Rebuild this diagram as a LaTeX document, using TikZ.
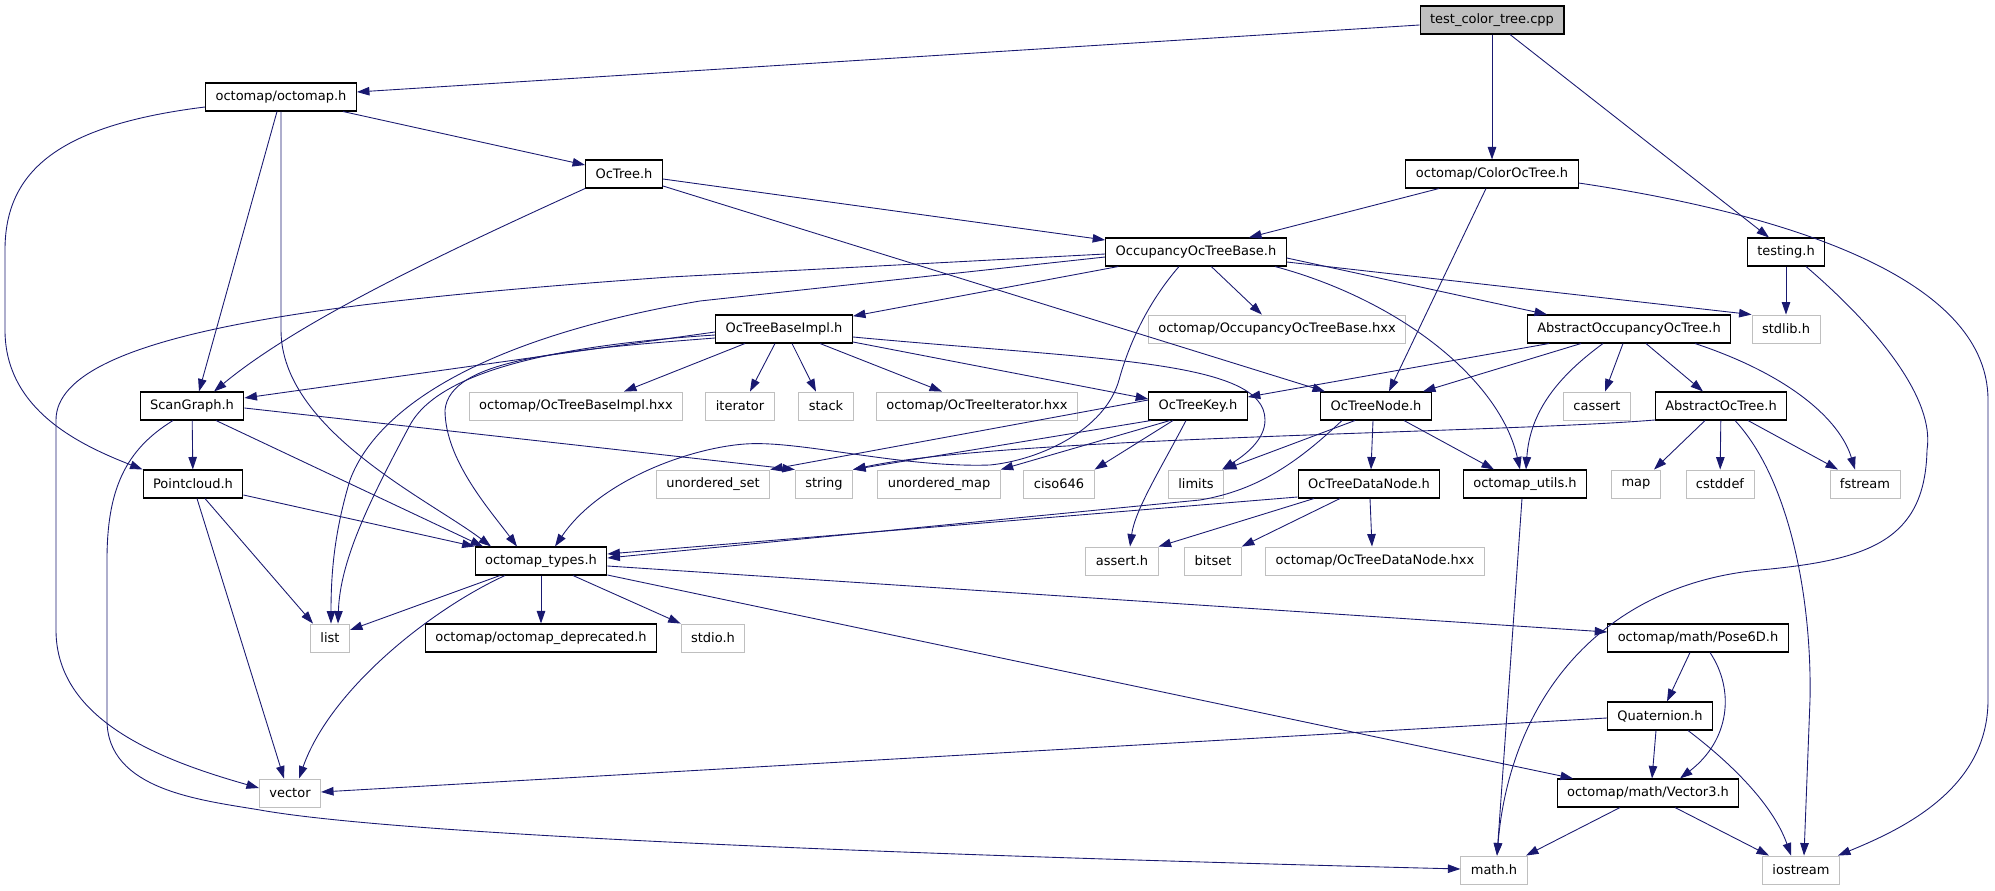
\documentclass[tikz,border=0pt]{standalone}
\usepackage{fontspec}
\setmainfont{DejaVu Sans}
\usetikzlibrary{arrows.meta}
\usetikzlibrary{calc}
\definecolor{edgeblue}{HTML}{191970}
\definecolor{sysgray}{HTML}{BFBFBF}
\tikzset {
  file node/.style = {
    draw = black,
    line width = 0.6pt,
    inner xsep = 0.2cm,
    inner ysep = 0pt,
    minimum height = 0.56cm,
    font = \fontsize{7.4}{8}\selectfont
  },
  % header of the project
  hdr/.style = {
    file node
  },
  % system header
  sys/.style = {
    file node,
    draw = sysgray,
    line width = 0.5pt
  },
  % the file the graph is about
  root/.style = {
    file node,
    fill = sysgray
  },
  % include edge
  dep/.style = {
    draw = edgeblue,
    line width = 0.5pt,
    -{Triangle[length=0.25cm, width=0.17cm]}
  }
}

\begin{document}
\begin{tikzpicture}[x=0.02cm, y=-0.02cm]
  \useasboundingbox (0,0) rectangle (1995,891);

  % row 0 - 2
  \node[root] (test-cpp) at (1492,20) {test\_color\_tree.cpp};
  \node[hdr] (octomap-h) at (281,97) {octomap/octomap.h};
  \node[hdr] (octree-h) at (624,174) {OcTree.h};
  \node[hdr] (color-h) at (1492,174) {octomap/ColorOcTree.h};
  \node[hdr] (testing-h) at (1786,252) {testing.h};
  \node[hdr] (occ-base) at (1196,252) {OccupancyOcTreeBase.h};

  % row 3
  \node[hdr] (base-impl) at (784,329) {OcTreeBaseImpl.h};
  \node[sys] (occ-hxx) at (1277,329) {octomap/OccupancyOcTreeBase.hxx};
  \node[hdr] (abs-occ) at (1629,329) {AbstractOccupancyOcTree.h};
  \node[sys] (stdlib) at (1786,329) {stdlib.h};

  % row 4
  \node[hdr] (scan-graph) at (192,406) {ScanGraph.h};
  \node[sys] (impl-hxx) at (576,406) {octomap/OcTreeBaseImpl.hxx};
  \node[sys] (iterator) at (740,406) {iterator};
  \node[sys] (stack) at (826,406) {stack};
  \node[sys] (iter-hxx) at (977,406) {octomap/OcTreeIterator.hxx};
  \node[hdr] (key-h) at (1198,406) {OcTreeKey.h};
  \node[hdr] (tree-node) at (1376,406) {OcTreeNode.h};
  \node[sys] (cassert) at (1597,406) {cassert};
  \node[hdr] (abs-tree) at (1721,406) {AbstractOcTree.h};

  % row 5
  \node[hdr] (pointcloud) at (193,484) {Pointcloud.h};
  \node[sys] (u-set) at (713,484) {unordered\_set};
  \node[sys] (string) at (824,484) {string};
  \node[sys] (u-map) at (939,484) {unordered\_map};
  \node[sys] (ciso) at (1059,484) {ciso646};
  \node[sys] (limits) at (1196,484) {limits};
  \node[hdr] (data-node) at (1369,484) {OcTreeDataNode.h};
  \node[hdr] (utils) at (1525,484) {octomap\_utils.h};
  \node[sys] (map) at (1636,484) {map};
  \node[sys] (cstddef) at (1720,484) {cstddef};
  \node[sys] (fstream) at (1865,484) {fstream};

  % row 6
  \node[hdr] (types) at (541,561) {octomap\_types.h};
  \node[sys] (assert-h) at (1122,561) {assert.h};
  \node[sys] (bitset) at (1213,561) {bitset};
  \node[sys] (data-hxx) at (1375,561) {octomap/OcTreeDataNode.hxx};

  % row 7 - 9
  \node[sys] (list) at (330,638) {list};
  \node[hdr] (deprecated) at (541,638) {octomap/octomap\_deprecated.h};
  \node[sys] (stdio) at (713,638) {stdio.h};
  \node[hdr] (pose) at (1698,638) {octomap/math/Pose6D.h};
  \node[hdr] (quat) at (1660,716) {Quaternion.h};
  \node[sys] (vector) at (290,793) {vector};
  \node[hdr] (vector3) at (1648,793) {octomap/math/Vector3.h};
  \node[sys] (math) at (1494,870) {math.h};
  \node[sys] (iostream) at (1801,870) {iostream};

  % test_color_tree.cpp
  \draw[dep] (test-cpp.west |- 0,25) -- (octomap-h.east |- 0,92);
  \draw[dep] (test-cpp) -- (color-h);
  \draw[dep] (test-cpp.south -| 1510,0) -- (testing-h.north -| 1769,0);

  % octomap.h
  \draw[dep] (octomap-h.west |- 0,107)
    .. controls (60,125) and (5,170) .. (5,250)
    -- (5,330)
    .. controls (5,410) and (80,445) .. (pointcloud.north west);
  \draw[dep] (octomap-h.south -| 277,0) -- (scan-graph.north -| 199,0);
  \draw[dep] (octomap-h.south -| 281,0) -- (281,330)
    .. controls (281,430) and (430,500) .. (types.north -| 491,0);
  \draw[dep] (octomap-h.south -| 343,0) -- (octree-h.west |- 0,165);

  % OcTree.h
  \draw[dep] (octree-h.east |- 0,179) -- (occ-base.west |- 0,240);
  \draw[dep] (octree-h.south west)
    .. controls (450,250) and (300,320) .. (scan-graph.north -| 214,0);
  \draw[dep] (octree-h.east |- 0,186) -- (tree-node.north -| 1325,0);

  % ColorOcTree.h
  \draw[dep] (color-h.south -| 1439,0) -- (occ-base.north -| 1249,0);
  \draw[dep] (color-h.south -| 1486,0) -- (tree-node.north -| 1389,0);
  \draw[dep] (color-h.east |- 0,183)
    .. controls (1760,210) and (1988,270) .. (1988,400)
    -- (1988,700)
    .. controls (1988,790) and (1900,830) .. (iostream.north -| 1838,0);

  % testing.h
  \draw[dep] (testing-h) -- (stdlib);
  \draw[dep] (testing-h.south -| 1806,0)
    .. controls (1880,330) and (1935,400) .. (1927,450)
    .. controls (1925,540) and (1870,560) .. (1760,570)
    .. controls (1600,585) and (1510,700) .. (math.north -| 1497,0);

  % OccupancyOcTreeBase.h
  \draw[dep] (occ-base.west |- 0,257) -- (700,301)
    .. controls (500,335) and (380,400) .. (350,480)
    .. controls (335,530) and (331,570) .. (list.north -| 331,0);
  \draw[dep] (occ-base.west |- 0,254) -- (670,277)
    .. controls (350,300) and (56,330) .. (56,420)
    -- (56,630)
    .. controls (56,720) and (160,760) .. (vector.west |- 0,788);
  \draw[dep] (occ-base) -- (base-impl);
  \draw[dep] (occ-base) -- (occ-hxx);
  \draw[dep] (occ-base.east |- 0,258) -- (abs-occ.north -| 1547,0);
  \draw[dep] (occ-base.east |- 0,262) -- (stdlib.north west);
  \draw[dep] (occ-base.south -| 1275,0)
    .. controls (1400,300) and (1500,380) .. (utils.north -| 1520,0);
  \draw[dep] (occ-base.south -| 1179,0)
    .. controls (1150,300) and (1130,340) .. (1119,380)
    .. controls (1105,430) and (1040,460) .. (990,465)
    .. controls (900,468) and (800,440) .. (745,444)
    .. controls (690,448) and (600,480) .. (types.north -| 555,0);

  % OcTreeBaseImpl.h
  \draw[dep] (base-impl.west |- 0,332) -- (scan-graph.east |- 0,398);
  \draw[dep] (base-impl.west |- 0,335)
    .. controls (560,345) and (440,370) .. (410,425)
    .. controls (370,500) and (340,560) .. (list.north -| 338,0);
  \draw[dep] (base-impl.west |- 0,338)
    .. controls (560,350) and (450,360) .. (445,410)
    .. controls (445,460) and (490,510) .. (types.north -| 517,0);
  \draw[dep] (base-impl.south -| 745,0) -- (impl-hxx.north -| 624,0);
  \draw[dep] (base-impl.south -| 775,0) -- (iterator.north -| 750,0);
  \draw[dep] (base-impl.south -| 792,0) -- (stack.north -| 816,0);
  \draw[dep] (base-impl.south -| 820,0) -- (iter-hxx.north -| 942,0);
  \draw[dep] (base-impl.east |- 0,342) -- (key-h.west |- 0,399);
  \draw[dep] (base-impl.east |- 0,337)
    .. controls (1100,360) and (1265,360) .. (1265,420)
    .. controls (1265,440) and (1245,455) .. (limits.north -| 1222,0);

  % AbstractOccupancyOcTree.h
  \draw[dep] (abs-occ.south -| 1549,0) -- (key-h.east |- 0,397);
  \draw[dep] (abs-occ.south -| 1581,0) -- (tree-node.north -| 1423,0);
  \draw[dep] (abs-occ.south -| 1603,0)
    .. controls (1560,375) and (1530,410) .. (utils.north -| 1526,0);
  \draw[dep] (abs-occ.south -| 1623,0) -- (cassert.north -| 1605,0);
  \draw[dep] (abs-occ.south -| 1646,0) -- (abs-tree.north -| 1703,0);
  \draw[dep] (abs-occ.south -| 1695,0)
    .. controls (1790,375) and (1840,420) .. (fstream.north -| 1855,0);

  % ScanGraph.h
  \draw[dep] (scan-graph) -- (pointcloud);
  \draw[dep] (scan-graph.south -| 216,0) -- (types.north -| 483,0);
  \draw[dep] (scan-graph.east |- 0,408) -- (string.north west);
  \draw[dep] (scan-graph.south -| 173,0)
    .. controls (125,450) and (107,490) .. (107,560)
    -- (107,720)
    .. controls (107,790) and (200,800) .. (260,810)
    .. controls (400,835) and (900,855) .. (math.west |- 0,869);

  % Pointcloud.h
  \draw[dep] (pointcloud.east |- 0,495) -- (types.north west);
  \draw[dep] (pointcloud.south -| 205,0) -- (list.north -| 313,0);
  \draw[dep] (pointcloud.south -| 197,0) -- (vector.north -| 284,0);

  % OcTreeKey.h
  \draw[dep] (key-h.west |- 0,400) -- (u-set.north east);
  \draw[dep] (key-h.south -| 1151,0) -- (string.north east);
  \draw[dep] (key-h.south -| 1170,0) -- (u-map.north east);
  \draw[dep] (key-h.south -| 1173,0) -- (ciso.north east);
  \draw[dep] (key-h.south -| 1186,0)
    .. controls (1160,470) and (1135,510) .. (assert-h.north -| 1130,0);

  % OcTreeNode.h
  \draw[dep] (tree-node.south -| 1342,0)
    .. controls (1300,460) and (1260,490) .. (1200,500)
    -- (types.east |- 0,558);
  \draw[dep] (tree-node.south -| 1355,0) -- (limits.north east);
  \draw[dep] (tree-node.south -| 1373,0) -- (data-node.north -| 1371,0);
  \draw[dep] (tree-node.south -| 1404,0) -- (utils.north -| 1494,0);

  % AbstractOcTree.h
  \draw[dep] (abs-tree.west |- 0,420)
    .. controls (1500,433) and (1000,437) .. (string.north east);
  \draw[dep] (abs-tree.south -| 1705,0) -- (map.north -| 1654,0);
  \draw[dep] (abs-tree) -- (cstddef);
  \draw[dep] (abs-tree.south -| 1735,0)
    .. controls (1790,480) and (1812,600) .. (1810,700)
    -- (iostream.north -| 1804,0);
  \draw[dep] (abs-tree.south -| 1748,0) -- (fstream.north -| 1838,0);

  % OcTreeDataNode.h
  \draw[dep] (data-node.west |- 0,497) -- (types.east |- 0,554);
  \draw[dep] (data-node.south -| 1314,0) -- (assert-h.north east);
  \draw[dep] (data-node.south -| 1340,0) -- (bitset.north east);
  \draw[dep] (data-node.south -| 1370,0) -- (data-hxx.north -| 1372,0);

  % octomap_utils.h
  \draw[dep] (utils.south -| 1522,0) -- (math.north -| 1497,0);

  % octomap_types.h
  \draw[dep] (types.south -| 500,0) -- (list.east |- 0,630);
  \draw[dep] (types.south -| 505,0)
    .. controls (430,610) and (330,690) .. (vector.north -| 299,0);
  \draw[dep] (types) -- (deprecated);
  \draw[dep] (types.south -| 573,0) -- (stdio.north west);
  \draw[dep] (types.east |- 0,566) -- (pose.west |- 0,632);
  \draw[dep] (types.east |- 0,575) -- (vector3.north -| 1573,0);

  % Pose6D.h, Quaternion.h, Vector3.h
  \draw[dep] (pose.south -| 1690,0) -- (quat.north -| 1667,0);
  \draw[dep] (pose.south -| 1710,0)
    .. controls (1735,690) and (1730,740) .. (vector3.north -| 1680,0);
  \draw[dep] (quat.south -| 1656,0) -- (vector3.north -| 1652,0);
  \draw[dep] (quat.south -| 1688,0)
    .. controls (1740,770) and (1775,810) .. (iostream.north -| 1791,0);
  \draw[dep] (quat.west |- 0,718) -- (vector.east |- 0,792);
  \draw[dep] (vector3.south -| 1620,0) -- (math.north -| 1526,0);
  \draw[dep] (vector3.south -| 1675,0) -- (iostream.north -| 1769,0);
\end{tikzpicture}
\end{document}
